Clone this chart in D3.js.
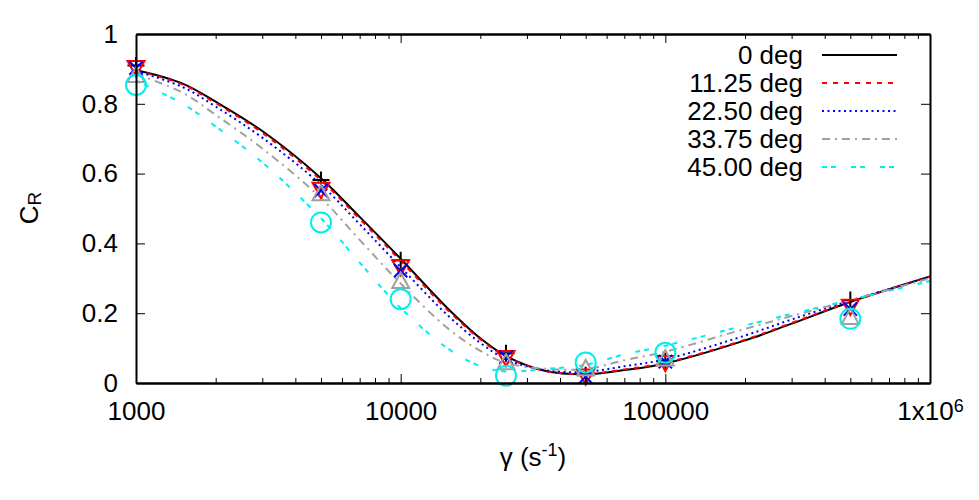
<!DOCTYPE html>
<html>
<head>
<meta charset="utf-8">
<script src="https://cdn.jsdelivr.net/npm/d3@7"></script>
<style>
  body { margin: 0; background: #fff; }
  svg text { font-family: "Liberation Sans", Arial, sans-serif; fill: #000; }
</style>
</head>
<body>
<div id="chart"></div>
<script>
// smooth model curves
var gammaFit = [1000, 1500, 2000, 3000, 5000, 7000, 10000, 15000, 20000, 25000, 35000, 50000, 70000, 100000, 200000, 300000, 500000, 1000000]
var fit00 = [0.897, 0.858, 0.806, 0.722, 0.587, 0.476, 0.356, 0.215, 0.128, 0.077, 0.035, 0.025, 0.037, 0.056, 0.122, 0.170, 0.232, 0.305]
var fit11 = [0.896, 0.855, 0.802, 0.717, 0.581, 0.470, 0.350, 0.210, 0.125, 0.075, 0.035, 0.026, 0.039, 0.058, 0.124, 0.172, 0.233, 0.305]
var fit22 = [0.894, 0.848, 0.792, 0.703, 0.568, 0.455, 0.332, 0.195, 0.115, 0.068, 0.037, 0.032, 0.048, 0.068, 0.136, 0.182, 0.236, 0.304]
var fit33 = [0.885, 0.832, 0.768, 0.672, 0.530, 0.410, 0.285, 0.158, 0.092, 0.058, 0.041, 0.040, 0.065, 0.090, 0.155, 0.192, 0.237, 0.300]
var fit45 = [0.866, 0.800, 0.735, 0.632, 0.472, 0.345, 0.215, 0.100, 0.048, 0.033, 0.040, 0.052, 0.082, 0.107, 0.165, 0.198, 0.238, 0.292]

// simulation points
var gammaSim = [1000, 5000, 10000, 25000, 50000, 100000, 500000]
var sim00 = [0.910, 0.582, 0.352, 0.085, 0.022, 0.062, 0.238]
var sim11 = [0.902, 0.553, 0.331, 0.071, 0.018, 0.057, 0.218]
var sim22 = [0.902, 0.551, 0.322, 0.074, 0.018, 0.061, 0.212]
var sim33 = [0.883, 0.544, 0.293, 0.060, 0.043, 0.071, 0.190]
var sim45 = [0.854, 0.460, 0.240, 0.021, 0.059, 0.087, 0.184]

var seriesNames = ["0 deg", "11.25 deg", "22.50 deg", "33.75 deg", "45.00 deg"]

var xTicks = [1000, 10000, 100000, 1000000]
var xTickLabels = ["1000", "10000", "100000", "1x10^6"]
var yTicks = [0, 0.2, 0.4, 0.6, 0.8, 1]
var yTickLabels = ["0", "0.2", "0.4", "0.6", "0.8", "1"]

var W = 979, H = 500
var margin = {top: 34, right: 49, bottom: 117, left: 136}
var width = W - margin.left - margin.right,
    height = H - margin.top - margin.bottom

var svg = d3.select("#chart").append("svg")
    .attr("width", W)
    .attr("height", H)

var xScale = d3.scaleLog().domain([1000, 1000000]).range([0, width])
var yScale = d3.scaleLinear().domain([0, 1]).range([height, 0])

var chart = svg.append("g")
    .attr("transform", "translate(" + margin.left + "," + margin.top + ")")

var fits = [fit00, fit11, fit22, fit33, fit45]
var sims = [sim00, sim11, sim22, sim33, sim45]
var styles = [
  {color: "#000000", dash: null},
  {color: "#ff0000", dash: "5,6"},
  {color: "#0000ff", dash: "2,3.5"},
  {color: "#a0a0a0", dash: "8,5,2,5"},
  {color: "#00eeee", dash: "5,4,5,15"}
]

// open marker shapes like gnuplot's
function sym(fn) { return {draw: function(ctx, size) { fn(ctx, Math.sqrt(size) / 2) }} }
var symbols = [
  sym(function(c, r) { c.moveTo(-r, 0); c.lineTo(r, 0); c.moveTo(0, -r); c.lineTo(0, r) }),
  sym(function(c, r) { c.moveTo(-r, -r * 0.85); c.lineTo(r, -r * 0.85); c.lineTo(0, r * 0.95); c.closePath() }),
  sym(function(c, r) { var a = r * 0.78; c.moveTo(-a, -a); c.lineTo(a, a); c.moveTo(-a, a); c.lineTo(a, -a) }),
  sym(function(c, r) { c.moveTo(-r, r * 0.85); c.lineTo(r, r * 0.85); c.lineTo(0, -r * 0.95); c.closePath() }),
  sym(function(c, r) { c.moveTo(r, 0); c.arc(0, 0, r, 0, 2 * Math.PI) })
]
var symSizes = [289, 289, 289, 289, 400]

chart.append("clipPath").attr("id", "clip")
  .append("rect").attr("width", width).attr("height", height)

var line = d3.line()
    .x(function(d) { return xScale(d.x) })
    .y(function(d) { return yScale(d.y) })
    .curve(d3.curveCatmullRom.alpha(0.5))

fits.forEach(function(f, i) {
  var data = gammaFit.map(function(g, j) { return {x: g, y: f[j]} })
  chart.append("path")
    .datum(data)
    .attr("clip-path", "url(#clip)")
    .attr("fill", "none")
    .attr("stroke", styles[i].color)
    .attr("stroke-width", 2)
    .attr("stroke-dasharray", styles[i].dash)
    .attr("d", line)
})

sims.forEach(function(s, i) {
  var data = gammaSim.map(function(g, j) { return {x: g, y: s[j]} })
  chart.selectAll(".pt" + i)
    .data(data)
    .enter()
    .append("path")
    .attr("class", "pt" + i)
    .attr("transform", function(d) { return "translate(" + xScale(d.x) + "," + yScale(d.y) + ")" })
    .attr("d", d3.symbol().type(symbols[i]).size(symSizes[i]))
    .attr("fill", "none")
    .attr("stroke", styles[i].color)
    .attr("stroke-width", 2)
})

// axes: ticks inside, mirrored on all four sides
var xMinor = []
for (var e = 3; e < 6; e++) for (var k = 2; k < 10; k++) xMinor.push(k * Math.pow(10, e))

function styleAxis(g) {
  g.selectAll(".domain").attr("stroke-width", 2)
  g.selectAll(".tick line").attr("stroke-width", 1)
  g.selectAll("text").attr("font-size", 26).attr("font-family", "Liberation Sans, Arial, sans-serif")
}

var xAxisG = chart.append("g")
    .attr("transform", "translate(0," + height + ")")
    .call(d3.axisBottom(xScale).tickValues(xTicks).tickSize(-9).tickSizeOuter(0).tickPadding(19)
      .tickFormat(function(d, i) { return xTickLabels[i].split("^")[0] }))
    .call(styleAxis)
xAxisG.selectAll(".tick text").each(function(d, i) {
  var parts = xTickLabels[i].split("^")
  if (parts.length > 1) {
    d3.select(this).append("tspan").attr("dy", "-0.45em").attr("font-size", 18).text(parts[1])
  }
})
chart.append("g")
    .attr("transform", "translate(0," + height + ")")
    .call(d3.axisBottom(xScale).tickValues(xMinor).tickSize(-5).tickSizeOuter(0).tickFormat(""))
    .call(styleAxis)

chart.append("g")
    .call(d3.axisTop(xScale).tickValues(xTicks).tickSize(-9).tickSizeOuter(0).tickFormat(""))
    .call(styleAxis)
chart.append("g")
    .call(d3.axisTop(xScale).tickValues(xMinor).tickSize(-5).tickSizeOuter(0).tickFormat(""))
    .call(styleAxis)

chart.append("g")
    .call(d3.axisLeft(yScale).tickValues(yTicks).tickSize(-9).tickSizeOuter(0).tickPadding(18)
      .tickFormat(function(d, i) { return yTickLabels[i] }))
    .call(styleAxis)
chart.append("g")
    .attr("transform", "translate(" + width + ",0)")
    .call(d3.axisRight(yScale).tickValues(yTicks).tickSize(-9).tickSizeOuter(0).tickFormat(""))
    .call(styleAxis)

// axis titles
var xt = svg.append("text")
    .attr("x", margin.left + width / 2)
    .attr("y", 466)
    .attr("text-anchor", "middle")
    .attr("font-size", 26)
xt.append("tspan").text("\u03b3 (s")
xt.append("tspan").attr("dy", -10).attr("font-size", 18).text("-1")
xt.append("tspan").attr("dy", 10).text(")")

var yt = svg.append("text")
    .attr("transform", "translate(38,208) rotate(-90)")
    .attr("text-anchor", "middle")
    .attr("font-size", 26)
yt.append("tspan").text("C")
yt.append("tspan").attr("dy", 3).attr("font-size", 19).text("R")

// legend
var legend = svg.append("g")
seriesNames.forEach(function(name, i) {
  var y = 55 + i * 28
  legend.append("text")
    .attr("x", 803).attr("y", y).attr("dy", "0.35em")
    .attr("text-anchor", "end")
    .attr("font-size", 26)
    .text(name)
  legend.append("line")
    .attr("x1", 822).attr("x2", 897).attr("y1", y).attr("y2", y)
    .attr("stroke", styles[i].color)
    .attr("stroke-width", 2)
    .attr("stroke-dasharray", styles[i].dash)
})
</script>
</body>
</html>
